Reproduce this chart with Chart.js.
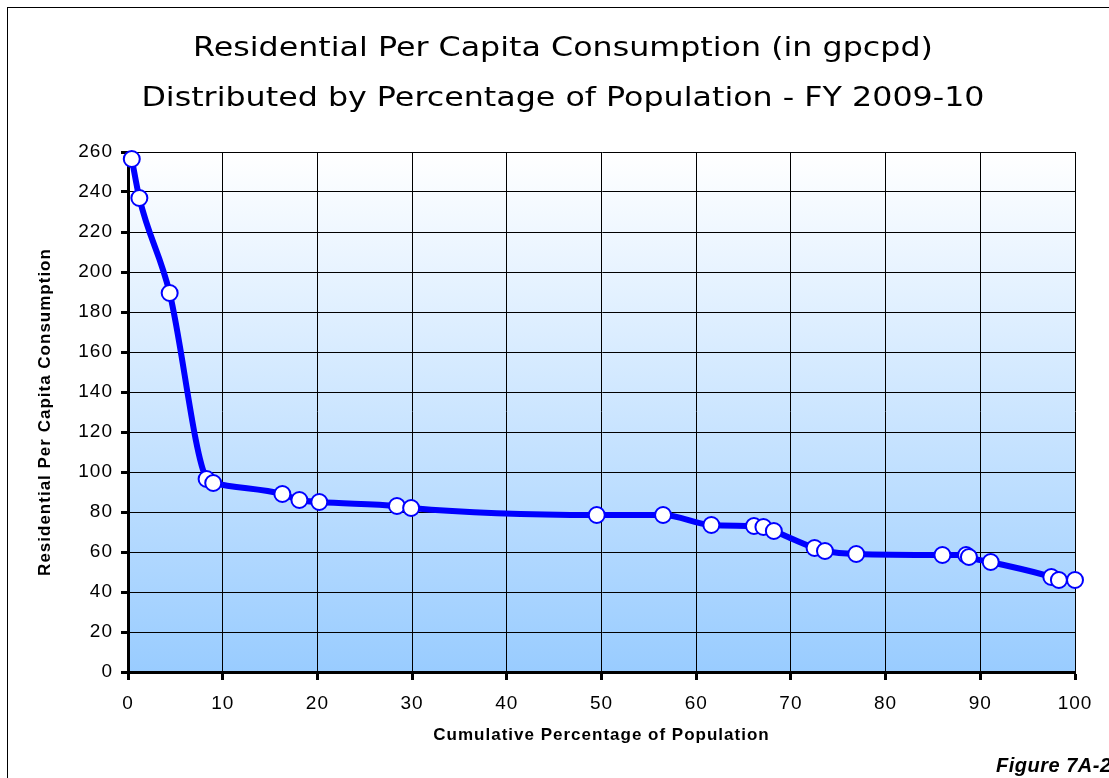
<!DOCTYPE html>
<html>
<head>
<meta charset="utf-8">
<title>Residential Per Capita Consumption</title>
<script src="https://cdn.jsdelivr.net/npm/chart.js@4.4.1/dist/chart.umd.min.js"></script>
<style>
  html, body { margin: 0; padding: 0; background: #fff; overflow: hidden; }
  #wrap { position: relative; width: 1109px; height: 778px; }
  #frame { position: absolute; left: 7px; top: 7px; width: 1200px; height: 900px; border: 1px solid #000; }
  #title { position: absolute; left: 0; top: 22px; width: 1126px; text-align: center;
           font-family: "DejaVu Sans", Verdana, sans-serif; font-size: 26px; line-height: 50px; color: #000;
           transform: scaleX(1.22); transform-origin: 563px 0; }
  #figlabel { position: absolute; left: 996px; top: 755px; white-space: nowrap;
              font-family: "Liberation Sans", Arial, sans-serif; font-weight: bold; font-style: italic;
              font-size: 20px; line-height: 20px; letter-spacing: 0.5px; color: #000; }
  canvas { position: absolute; left: 0; top: 0; }
</style>
</head>
<body>
<div id="wrap">
  <div id="frame"></div>
  <canvas id="chart" width="1109" height="778"></canvas>
  <div id="title">Residential Per Capita Consumption (in gpcpd)<br>Distributed by Percentage of Population - FY 2009-10</div>
  <div id="figlabel">Figure 7A-2</div>
</div>
<script>
// cumulative percentage of population (x) and residential gpcpd (y)
const popPct = [0.4, 1.2, 4.4, 8.3, 9.0, 16.3, 18.1, 20.2, 28.4, 29.9, 49.5, 56.5,
                61.6, 66.1, 67.1, 68.2, 72.5, 73.6, 76.9, 86.0, 88.5, 88.8, 91.1,
                97.5, 98.3, 100];
const gpcpd  = [256.5, 237, 189.5, 96.5, 94.5, 89, 86, 85, 83, 82, 78.5, 78.5,
                73.5, 73, 72.5, 70.5, 62, 60.5, 59, 58.5, 58.5, 57.5, 55,
                47.5, 46, 46];

const xTicks = [0, 10, 20, 30, 40, 50, 60, 70, 80, 90, 100];
const yTicks = [0, 20, 40, 60, 80, 100, 120, 140, 160, 180, 200, 220, 240, 260];

const points = popPct.map((x, i) => ({ x: x, y: gpcpd[i] }));

// gradient fill behind the plot area, and slightly wider text like the original
const plotBackground = {
  id: 'plotBackground',
  beforeDraw(chart) {
    const { ctx, chartArea: a } = chart;
    const g = ctx.createLinearGradient(0, a.top, 0, a.bottom);
    g.addColorStop(0, '#ffffff');
    g.addColorStop(1, '#99ccff');
    ctx.save();
    ctx.fillStyle = g;
    ctx.fillRect(a.left, a.top, a.width, a.height);
    ctx.restore();
    ctx.letterSpacing = '1px';
  }
};

Chart.defaults.font.family = '"Liberation Sans", Arial, sans-serif';
Chart.defaults.color = '#000';

const ctx = document.getElementById('chart').getContext('2d');
new Chart(ctx, {
  type: 'line',
  data: {
    datasets: [{
      label: 'Residential Per Capita Consumption',
      data: points,
      borderColor: '#0000ff',
      borderWidth: 6,
      cubicInterpolationMode: 'monotone',
      pointRadius: 8,
      pointHoverRadius: 8,
      pointBackgroundColor: '#ffffff',
      pointBorderColor: '#0000ff',
      pointBorderWidth: 2,
      clip: false
    }]
  },
  options: {
    responsive: false,
    animation: false,
    events: [],
    layout: { padding: { top: 152, left: 0, right: 34, bottom: 26 } },
    plugins: {
      legend: { display: false },
      tooltip: { enabled: false }
    },
    scales: {
      x: {
        type: 'linear',
        min: 0,
        max: 100,
        afterBuildTicks: s => { s.ticks = xTicks.map(v => ({ value: v })); },
        afterFit: s => { s.height = 80; },
        grid: { color: '#000', lineWidth: 1, tickLength: 8, tickWidth: 3, tickColor: '#000' },
        border: { color: '#000', width: 3 },
        ticks: { font: { size: 19 }, padding: 12, maxRotation: 0 },
        title: {
          display: true,
          text: 'Cumulative Percentage of Population',
          font: { size: 17, weight: 'bold', lineHeight: 1.2 },
          padding: { top: 0, bottom: 6 }
        }
      },
      y: {
        min: 0,
        max: 260,
        afterBuildTicks: s => { s.ticks = yTicks.map(v => ({ value: v })); },
        afterFit: s => { s.width = 128; },
        grid: { color: '#000', lineWidth: 1, tickLength: 7, tickWidth: 3, tickColor: '#000' },
        border: { color: '#000', width: 3 },
        ticks: { font: { size: 19 }, padding: 8 },
        title: {
          display: true,
          text: 'Residential Per Capita Consumption',
          font: { size: 17, weight: 'bold', lineHeight: 1.2 },
          padding: { top: 35, bottom: 0 }
        }
      }
    }
  },
  plugins: [plotBackground]
});
</script>
</body>
</html>
